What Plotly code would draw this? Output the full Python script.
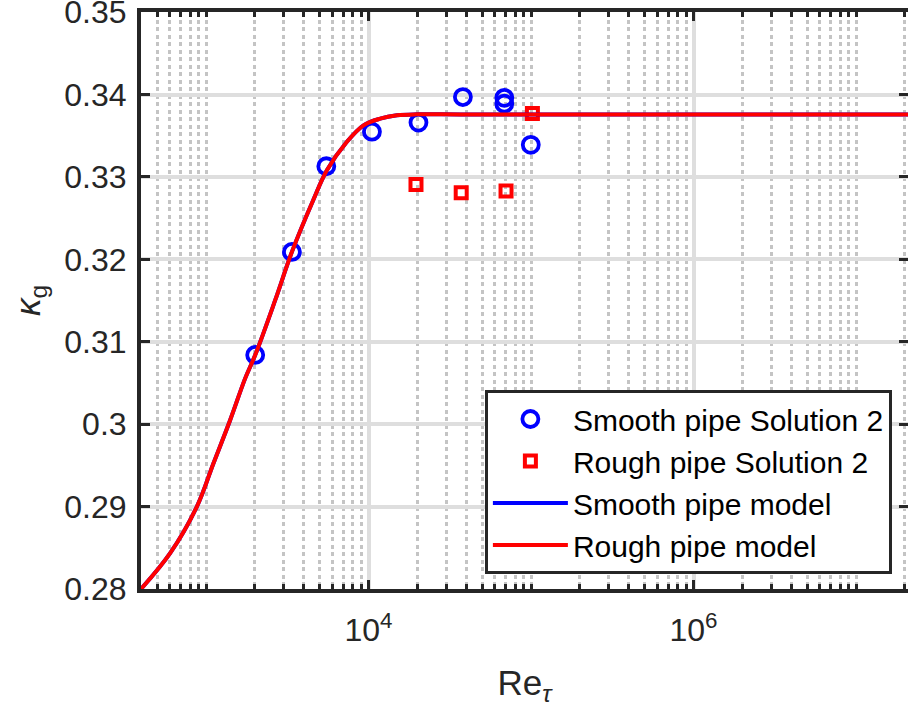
import plotly.graph_objects as go

# ---- data ----
smooth_re = [2008, 3378, 5500, 10500, 20300, 38100, 68500, 68500, 99700]
smooth_kg = [0.3084, 0.3209, 0.3313, 0.3355, 0.3366, 0.3397, 0.3396, 0.3389, 0.3339]

rough_re = [19600, 37200, 70200, 102000]
rough_kg = [0.3291, 0.3281, 0.3283, 0.3377]

model_re = [398, 602, 879, 1112, 1409, 1742, 2008, 2666, 3378, 4567, 5546,
            7365, 9316, 11800, 14960, 19860, 40000, 2.1e7]
model_kg = [0.2800, 0.28435, 0.2900, 0.29526, 0.30051, 0.30556, 0.30839, 0.31505,
            0.32091, 0.32718, 0.33081, 0.33427, 0.33627, 0.33708, 0.33748, 0.3376,
            0.33758, 0.33758]

x_tickvals = [1e4, 1e6]
x_ticktext = ["10<sup>4</sup>", "10<sup>6</sup>"]
y_tickvals = [0.28, 0.29, 0.30, 0.31, 0.32, 0.33, 0.34, 0.35]
y_ticktext = ["0.28", "0.29", "0.3", "0.31", "0.32", "0.33", "0.34", "0.35"]

minor_vals = [k * 10 ** n for n in range(2, 8) for k in range(1, 10)
              if k * 10 ** n not in x_tickvals]

AX = "#262626"
FONT = "Liberation Sans, Arial, Helvetica, sans-serif"

fig = go.Figure()
fig.add_trace(go.Scatter(
    x=smooth_re, y=smooth_kg, mode="markers", name="Smooth pipe Solution 2",
    marker=dict(symbol="circle-open", size=16, color="#0000ff",
                line=dict(width=3.8, color="#0000ff"))))
fig.add_trace(go.Scatter(
    x=rough_re, y=rough_kg, mode="markers", name="Rough pipe Solution 2",
    marker=dict(symbol="square-open", size=11, color="#ff0000",
                line=dict(width=4, color="#ff0000"))))
fig.add_trace(go.Scatter(
    x=model_re, y=model_kg, mode="lines", name="Smooth pipe model",
    line=dict(color="#0000ff", width=4, shape="spline", smoothing=1.0)))
fig.add_trace(go.Scatter(
    x=model_re, y=model_kg, mode="lines", name="Rough pipe model",
    line=dict(color="#ff0000", width=4, shape="spline", smoothing=1.0)))

fig.update_layout(
    width=908, height=718,
    margin=dict(l=141, r=0, t=12, b=129),
    plot_bgcolor="white", paper_bgcolor="white",
    font=dict(family=FONT, color=AX),
    showlegend=True,
    legend=dict(x=0.979, y=0.026, xanchor="right", yanchor="bottom",
                bgcolor="white", bordercolor=AX, borderwidth=3,
                font=dict(size=30, color="black", family=FONT),
                itemwidth=75, tracegroupgap=0),
)

fig.update_xaxes(
    type="log", range=[2.6, 7.32],
    tickvals=x_tickvals, ticktext=x_ticktext,
    tickfont=dict(size=32, color=AX),
    ticks="inside", ticklen=9, tickwidth=3, tickcolor=AX,
    showline=True, linewidth=4, linecolor=AX, mirror="ticks",
    showgrid=True, gridcolor="#dedede", gridwidth=3.5, zeroline=False,
    ticklabelstandoff=10, ticklabeloverflow="allow",
    minor=dict(tickvals=minor_vals, ticks="inside", ticklen=5, tickwidth=3,
               tickcolor=AX, showgrid=True, gridcolor="#c4c4c4", gridwidth=3,
               griddash="4px,3.5px"),
    title=dict(text="Re<sub><i>τ</i></sub>", font=dict(size=35, color=AX), standoff=24),
)
fig.update_yaxes(
    range=[0.28, 0.35002],
    tickvals=y_tickvals, ticktext=y_ticktext,
    tickfont=dict(size=32, color=AX),
    ticks="inside", ticklen=9, tickwidth=3, tickcolor=AX,
    showline=True, linewidth=4, linecolor=AX, mirror="ticks",
    showgrid=True, gridcolor="#dedede", gridwidth=3.5, zeroline=False,
    ticklabelstandoff=4, ticklabeloverflow="allow",
    automargin="left",
    title=dict(text="<i>κ</i><sub>g</sub>", font=dict(size=35, color=AX), standoff=14),
)

fig.write_html("out.html")
